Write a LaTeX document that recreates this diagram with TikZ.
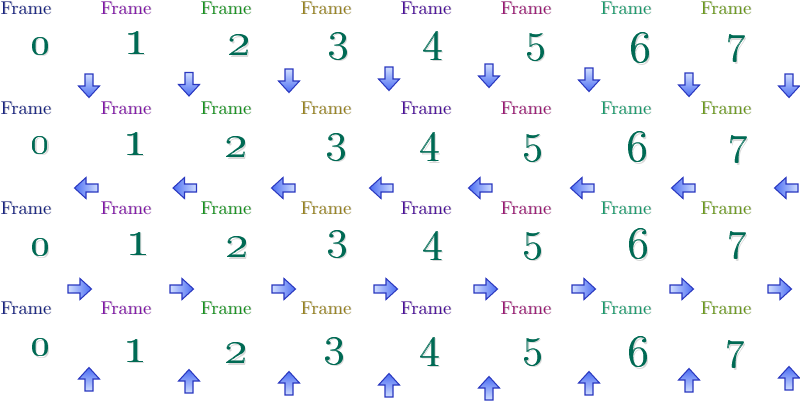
\documentclass[tikz,border=0pt]{standalone}
\definecolor{c0}{HTML}{15207F}
\definecolor{c1}{HTML}{7E12A6}
\definecolor{c2}{HTML}{12901A}
\definecolor{c3}{HTML}{96801A}
\definecolor{c4}{HTML}{480C98}
\definecolor{c5}{HTML}{981470}
\definecolor{c6}{HTML}{149868}
\definecolor{c7}{HTML}{689818}
\definecolor{digcol}{HTML}{006A54}
\definecolor{aborder}{HTML}{2A38C0}
\definecolor{adark}{HTML}{4A6CF2}
\definecolor{alight}{HTML}{D0DEFF}
\tikzset{
  framelbl/.style={inner sep=0pt, font=\fontsize{10.5pt}{12pt}\selectfont},
  digit/.style={inner sep=0pt, font=\fontsize{20pt}{24pt}\selectfont},
  arrowbox/.style={draw=aborder, line width=0.6pt, line join=miter}
}
\newcommand\ArrDown[2]{\draw[arrowbox, top color=alight, bottom color=adark]
  ({#1-4},{#2-12}) -- ({#1+4},{#2-12}) -- ({#1+4},{#2}) -- ({#1+10.5},{#2}) -- ({#1},{#2+11.5}) -- ({#1-10.5},{#2}) -- ({#1-4},{#2}) -- cycle;}
\newcommand\ArrUp[2]{\draw[arrowbox, top color=adark, bottom color=alight]
  ({#1-4},{#2+12}) -- ({#1+4},{#2+12}) -- ({#1+4},{#2}) -- ({#1+10.5},{#2}) -- ({#1},{#2-11.5}) -- ({#1-10.5},{#2}) -- ({#1-4},{#2}) -- cycle;}
\newcommand\ArrLeft[2]{\draw[arrowbox, left color=adark, right color=alight]
  ({#1+12},{#2-4}) -- ({#1+12},{#2+4}) -- ({#1},{#2+4}) -- ({#1},{#2+10.5}) -- ({#1-11.5},{#2}) -- ({#1},{#2-10.5}) -- ({#1},{#2-4}) -- cycle;}
\newcommand\ArrRight[2]{\draw[arrowbox, left color=alight, right color=adark]
  ({#1-12},{#2-4}) -- ({#1-12},{#2+4}) -- ({#1},{#2+4}) -- ({#1},{#2+10.5}) -- ({#1+11.5},{#2}) -- ({#1},{#2-10.5}) -- ({#1},{#2-4}) -- cycle;}
\begin{document}
\begin{tikzpicture}[x=0.02cm,y=-0.02cm]
\useasboundingbox[fill=white] (0,0) rectangle (800,400);
% Frame labels
\foreach \r in {0,1,2,3}{
  \foreach \c in {0,...,7}{
    \node[framelbl, text=gray!40] (fs\r\c) at ({100*\c+26.8},{100*\r+8.8}) {Frame};
    \node[framelbl, text=c\c] (f\r\c) at ({100*\c+26},{100*\r+8}) {Frame};
  }
}
% digits: row/col/x/y
\foreach \r/\c/\x/\y in {
  0/0/40/45.5, 0/1/136/43, 0/2/239/45, 0/3/338/46, 0/4/433/46, 0/5/536/47, 0/6/640/48, 0/7/736/49,
  1/0/39.5/144.5, 1/1/135/144, 1/2/236/147, 1/3/336/147, 1/4/430/147.5, 1/5/533/148, 1/6/637/147, 1/7/738/150,
  2/0/40/247, 2/1/138/244, 2/2/237/247, 2/3/337/244, 2/4/433/246, 2/5/533/246, 2/6/638/244, 2/7/737/246,
  3/0/40/347, 3/1/135/351, 3/2/236/353, 3/3/334/351, 3/4/430/352, 3/5/533/352, 3/6/638/352, 3/7/735/355}{
  \pgfmathsetmacro\s{{1.1,1.45,1.35,1.22,1.22,1.22,1.25,1.12}[\c]}
  \node[digit, scale=\s, text=gray!30] (ds\r\c) at ({\x+1.8},{\y+1.6}) {\oldstylenums{\c}};
  \node[digit, scale=\s, text=digcol] (dt\r\c) at ({\x+0.6},\y) {\oldstylenums{\c}};
  \node[digit, scale=\s, text=digcol] (d\r\c) at (\x,\y) {\oldstylenums{\c}};
}
% arrows
\foreach \c/\y in {0/86,1/84.5,2/81,3/79,4/76,5/80,6/85,7/86}{\ArrDown{100*\c+89}{\y}}
\foreach \x in {86,184.5,283,381,480,582,683,786}{\ArrLeft{\x}{188}}
\foreach \x in {80,182,284,386,486,584,682,780}{\ArrRight{\x}{289}}
\foreach \c/\y in {0/379,1/381,2/383,3/385,4/388,5/383,6/380,7/378}{\ArrUp{100*\c+89}{\y}}
\end{tikzpicture}
\end{document}
